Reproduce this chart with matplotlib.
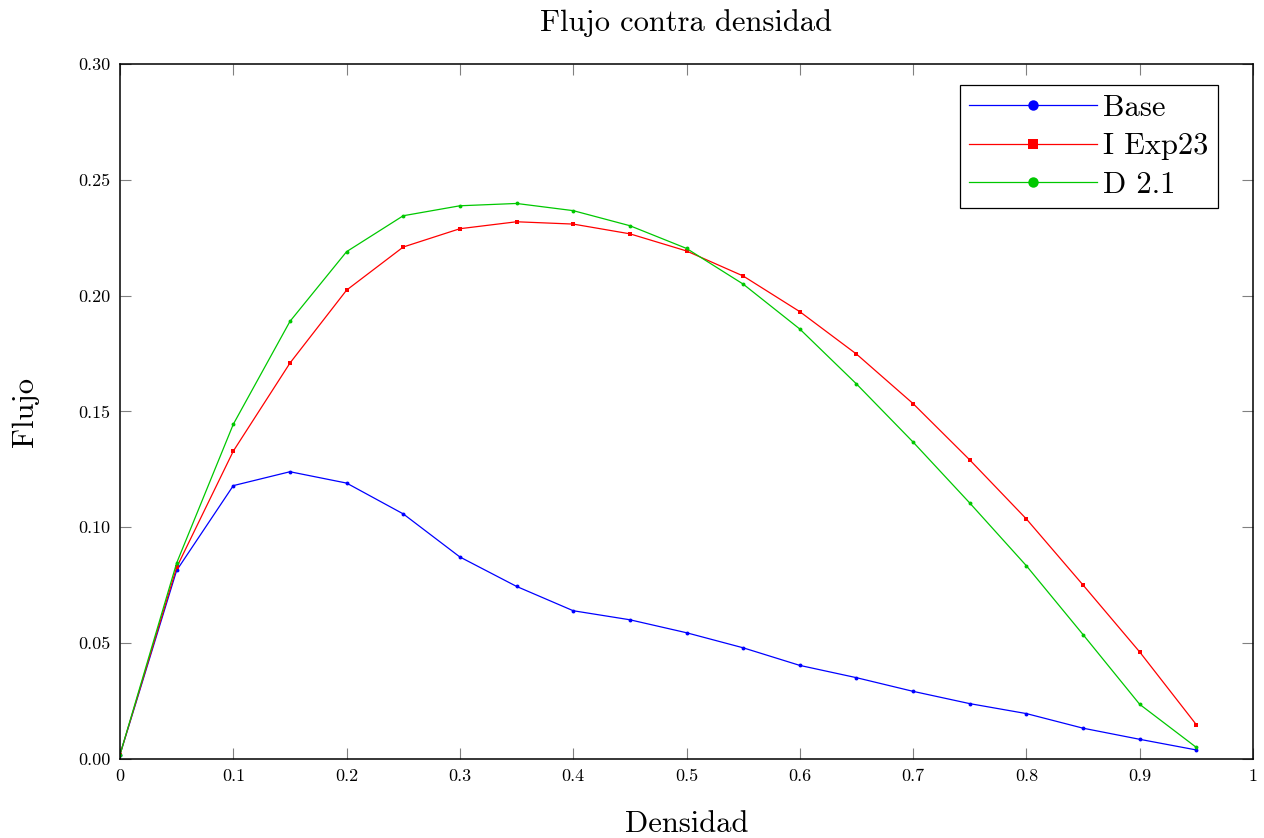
import matplotlib
matplotlib.use("Agg")
import matplotlib.pyplot as plt

plt.rcParams['font.family'] = ['cmr10', 'DejaVu Serif']
plt.rcParams['axes.formatter.use_mathtext'] = True

densidad = [0.0, 0.05, 0.1, 0.15, 0.2, 0.25, 0.3, 0.35, 0.4, 0.45,
            0.5, 0.55, 0.6, 0.65, 0.7, 0.75, 0.8, 0.85, 0.9, 0.95]
base = [0.0019, 0.0814, 0.118, 0.124, 0.1191, 0.1058, 0.0872, 0.0745, 0.064, 0.0601,
        0.0545, 0.048, 0.0404, 0.0351, 0.0292, 0.0239, 0.0196, 0.0133, 0.0085, 0.0039]
i_exp23 = [0.0019, 0.0827, 0.1329, 0.1709, 0.2024, 0.221, 0.2289, 0.2319, 0.2309, 0.2267,
           0.2193, 0.2085, 0.1931, 0.1748, 0.1534, 0.1291, 0.1036, 0.0751, 0.0462, 0.0148]
d21 = [0.0019, 0.0846, 0.1445, 0.1889, 0.219, 0.2345, 0.2388, 0.2398, 0.2367, 0.2302,
       0.2204, 0.205, 0.1856, 0.1619, 0.1368, 0.1105, 0.0834, 0.0537, 0.0236, 0.005]

xticks = [0, 0.1, 0.2, 0.3, 0.4, 0.5, 0.6, 0.7, 0.8, 0.9, 1]
xticklabels = ['0', '0.1', '0.2', '0.3', '0.4', '0.5', '0.6', '0.7', '0.8', '0.9', '1']
yticks = [0.0, 0.05, 0.10, 0.15, 0.20, 0.25, 0.30]
yticklabels = ['0.00', '0.05', '0.10', '0.15', '0.20', '0.25', '0.30']

fig = plt.figure(figsize=(12.64, 8.38), dpi=100)
ax = fig.add_axes([120/1264, 79/838, 1133/1264, 695/838])

green = '#00c800'
series = [
    (base, 'Base', 'blue', 'o'),
    (i_exp23, 'I Exp23', 'red', 's'),
    (d21, 'D 2.1', green, 'o'),
]
handles = []
for ys, lab, col, mk in series:
    ax.plot(densidad, ys, color=col, lw=0.9, marker=mk, markersize=2.8 if mk == 'o' else 2.6,
            markeredgewidth=0, label=lab)
    h, = ax.plot([], [], color=col, lw=0.9, marker=mk, markersize=7.5 if mk == 'o' else 7,
                 markeredgewidth=0, label=lab)
    handles.append(h)

ax.set_xlim(0, 1)
ax.set_ylim(0, 0.30)
ax.set_xticks(xticks)
ax.set_xticklabels(xticklabels)
ax.set_yticks(yticks)
ax.set_yticklabels(yticklabels)
ax.tick_params(direction='in', length=7.7, width=0.8, color='#808080',
               top=True, right=True, labelsize=13, pad=7)
for s in ax.spines.values():
    s.set_linewidth(1.1)
    s.set_color('black')

ax.set_title('Flujo contra densidad', fontsize=22, pad=24)
ax.set_xlabel('Densidad', fontsize=22, labelpad=19)
ax.set_ylabel('Flujo', fontsize=22, labelpad=28)

leg = ax.legend(handles=handles, labels=[h.get_label() for h in handles],
                loc='upper right', fontsize=22,
                frameon=True, fancybox=False, framealpha=1, edgecolor='black',
                handlelength=4.2, handletextpad=0.2, borderpad=0.3, labelspacing=0.37,
                borderaxespad=0)
leg.set_bbox_to_anchor((1218/1264, (838-85)/838), transform=fig.transFigure)
leg.get_frame().set_linewidth(0.9)

fig.savefig('out.png', dpi=100)
